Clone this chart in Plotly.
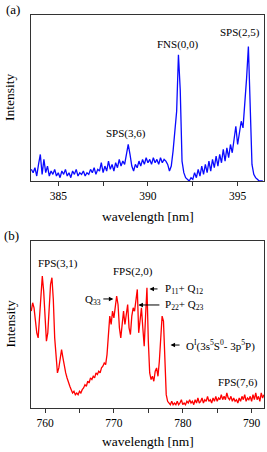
import plotly.graph_objects as go

# ---------------- data ----------------
# (a) 383.5 - 396.4 nm, 0.1 nm sampling
wl_a_start, wl_a_step = 383.5, 0.1
int_a = [
    0.07, 0.05, 0.08, 0.03, 0.10, 0.16, 0.04, 0.13, 0.05, 0.09,
    0.03, 0.06, 0.04, 0.07, 0.03, 0.05, 0.02, 0.06, 0.04, 0.07,
    0.03, 0.05, 0.02, 0.06, 0.04, 0.07, 0.03, 0.05, 0.04, 0.06,
    0.03, 0.05, 0.04, 0.07, 0.05, 0.08, 0.04, 0.07, 0.06, 0.11,
    0.05, 0.09, 0.06, 0.12, 0.07, 0.10, 0.06, 0.11, 0.08, 0.13,
    0.09, 0.12, 0.10, 0.15, 0.22, 0.16, 0.09, 0.06, 0.10, 0.08,
    0.12, 0.09, 0.13, 0.10, 0.14, 0.11, 0.13, 0.10, 0.14, 0.11,
    0.13, 0.10, 0.14, 0.11, 0.13, 0.12, 0.10, 0.06, 0.09, 0.18,
    0.30, 0.42, 0.76, 0.55, 0.12, 0.05, 0.02, 0.01, 0.00, 0.02,
    0.01, 0.05, 0.02, 0.07, 0.03, 0.09, 0.04, 0.10, 0.05, 0.12,
    0.06, 0.13, 0.08, 0.15, 0.09, 0.16, 0.11, 0.19, 0.12, 0.20,
    0.14, 0.22, 0.17, 0.25, 0.33, 0.22, 0.30, 0.36, 0.32, 0.45,
    0.62, 0.81, 0.50, 0.10, 0.04, 0.02, 0.01, 0.00, 0.00, 0.00,
]
wl_a = [round(wl_a_start + wl_a_step * i, 2) for i in range(len(int_a))]

# (b) 758.0 - 791.8 nm, 0.2 nm sampling
wl_b_start, wl_b_step = 758.0, 0.2
int_b = [
    0.58, 0.63, 0.60, 0.52, 0.45, 0.42, 0.55, 0.72, 0.79, 0.70,
    0.50, 0.40, 0.45, 0.62, 0.74, 0.78, 0.65, 0.42, 0.28, 0.21,
    0.24, 0.31, 0.35, 0.30, 0.24, 0.21, 0.18, 0.15, 0.13, 0.11,
    0.09, 0.10, 0.08, 0.09, 0.08, 0.10, 0.09, 0.11, 0.12, 0.14,
    0.13, 0.16, 0.15, 0.18, 0.17, 0.19, 0.18, 0.21, 0.20, 0.22,
    0.21, 0.24, 0.25, 0.27, 0.26, 0.32, 0.45, 0.55, 0.50, 0.58,
    0.54, 0.60, 0.67, 0.62, 0.48, 0.42, 0.52, 0.58, 0.50, 0.56,
    0.62, 0.48, 0.44, 0.55, 0.60, 0.58, 0.66, 0.71, 0.45, 0.52,
    0.60, 0.48, 0.37, 0.55, 0.72, 0.40, 0.21, 0.17, 0.19, 0.16,
    0.22, 0.24, 0.19, 0.28, 0.45, 0.55, 0.52, 0.30, 0.08, 0.04,
    0.03, 0.02, 0.04, 0.02, 0.03, 0.02, 0.04, 0.02, 0.03, 0.05,
    0.02, 0.03, 0.02, 0.04, 0.03, 0.05, 0.03, 0.04, 0.02, 0.05,
    0.03, 0.06, 0.03, 0.04, 0.06, 0.03, 0.05, 0.04, 0.07, 0.04,
    0.05, 0.03, 0.06, 0.04, 0.07, 0.04, 0.06, 0.05, 0.08, 0.05,
    0.07, 0.05, 0.09, 0.06, 0.05, 0.07, 0.04, 0.06, 0.04, 0.05,
    0.03, 0.06, 0.04, 0.07, 0.05, 0.08, 0.04, 0.06, 0.05, 0.07,
    0.04, 0.08, 0.05, 0.09, 0.05, 0.07, 0.04, 0.09, 0.06, 0.08,
]
wl_b = [round(wl_b_start + wl_b_step * i, 2) for i in range(len(int_b))]

ticks_a = [385, 390, 395]
ticks_b = [760, 770, 780, 790]

# ---------------- figure ----------------
FONT = "Liberation Serif, Times New Roman, serif"
fig = go.Figure()
fig.add_trace(go.Scatter(x=wl_a, y=int_a, mode="lines", xaxis="x", yaxis="y",
                         line=dict(color="#0a0aff", width=1.3), showlegend=False))
fig.add_trace(go.Scatter(x=wl_b, y=int_b, mode="lines", xaxis="x2", yaxis="y2",
                         line=dict(color="#ff0000", width=1.3), showlegend=False))

axline = dict(showline=True, linecolor="#333333", linewidth=1, mirror=True,
              showgrid=False, zeroline=False)

fig.update_layout(
    width=267, height=452,
    margin=dict(l=31, r=3, t=15, b=44),
    paper_bgcolor="white", plot_bgcolor="white",
    font=dict(family=FONT, color="black", size=11),
    xaxis=dict(domain=[0, 1], anchor="y", range=[383.48, 396.47],
               tickvals=ticks_a, ticks="outside", ticklen=4, tickcolor="#333333",
               minor=dict(dtick=2.5, tick0=385, ticks="outside", ticklen=4, tickcolor="#333333"),
               tickfont=dict(size=11.5, family=FONT), **axline),
    yaxis=dict(domain=[0.5776, 1.0], anchor="x", range=[0, 1],
               showticklabels=False, ticks="", **axline),
    xaxis2=dict(domain=[0, 1], anchor="y2", range=[757.96, 791.8],
                tickvals=ticks_b, ticks="outside", ticklen=4, tickcolor="#333333",
                minor=dict(dtick=5, tick0=760, ticks="outside", ticklen=4, tickcolor="#333333"),
                tickfont=dict(size=11.5, family=FONT), **axline),
    yaxis2=dict(domain=[0, 0.4249], anchor="x2", range=[0, 1],
                showticklabels=False, ticks="", **axline),
)

ann = []
def paper_text(text, x, y, size=13, angle=0):
    ann.append(dict(text=text, xref="paper", yref="paper", x=x, y=y,
                    xanchor="center", yanchor="middle", showarrow=False,
                    textangle=angle, font=dict(size=size, family=FONT)))

paper_text("(a)", -0.077, 1.013, 13)
paper_text("(b)", -0.082, 0.440, 13)
paper_text("Intensity", -0.09, 0.789, 13.5, -90)
paper_text("Intensity", -0.09, 0.2125, 13.5, -90)
paper_text("wavelength [nm]", 0.5, 0.4885, 13.5)
paper_text("wavelength [nm]", 0.5, -0.0865, 13.5)

def data_text(text, x, y, xr, yr, anchor="center", size=11):
    ann.append(dict(text=text, xref=xr, yref=yr, x=x, y=y, xanchor=anchor,
                    yanchor="middle", showarrow=False, font=dict(size=size, family=FONT)))

def arrow(x, y, ax, xr, yr):
    ann.append(dict(text=" ", xref=xr, yref=yr, x=x, y=y, ax=ax, ay=0,
                    showarrow=True, arrowhead=2, arrowsize=0.9, arrowwidth=1,
                    arrowcolor="black", font=dict(size=2, family=FONT)))

data_text("FNS(0,0)", 391.69, 0.825, "x", "y")
data_text("SPS(2,5)", 395.15, 0.892, "x", "y")
data_text("SPS(3,6)", 388.79, 0.289, "x", "y")

data_text("FPS(3,1)", 761.90, 0.868, "x2", "y2")
data_text("FPS(2,0)", 772.83, 0.820, "x2", "y2")
data_text("Q<sub>33</sub>", 767.0, 0.647, "x2", "y2")
arrow(769.92, 0.653, -12, "x2", "y2")
arrow(775.17, 0.713, 10, "x2", "y2")
data_text("P<sub>11</sub>+ Q<sub>12</sub>", 777.06, 0.713, "x2", "y2", anchor="left")
arrow(773.56, 0.617, 23, "x2", "y2")
data_text("P<sub>22</sub>+ Q<sub>23</sub>", 777.06, 0.617, "x2", "y2", anchor="left")
arrow(778.23, 0.377, 11, "x2", "y2")
data_text("O<sup>I</sup>(3s<sup>5</sup>S<sup>0</sup>- 3p<sup>5</sup>P)", 780.13, 0.377, "x2", "y2", anchor="left")
data_text("FPS(7,6)", 788.0, 0.150, "x2", "y2")

fig.update_layout(annotations=ann)
# remove the default 8 px page margin so the 267x452 figure fills the window
fig.write_html("out.html",
               config={"displayModeBar": False, "staticPlot": True},
               post_script="document.body.style.margin='0px';document.body.style.overflow='hidden';")
